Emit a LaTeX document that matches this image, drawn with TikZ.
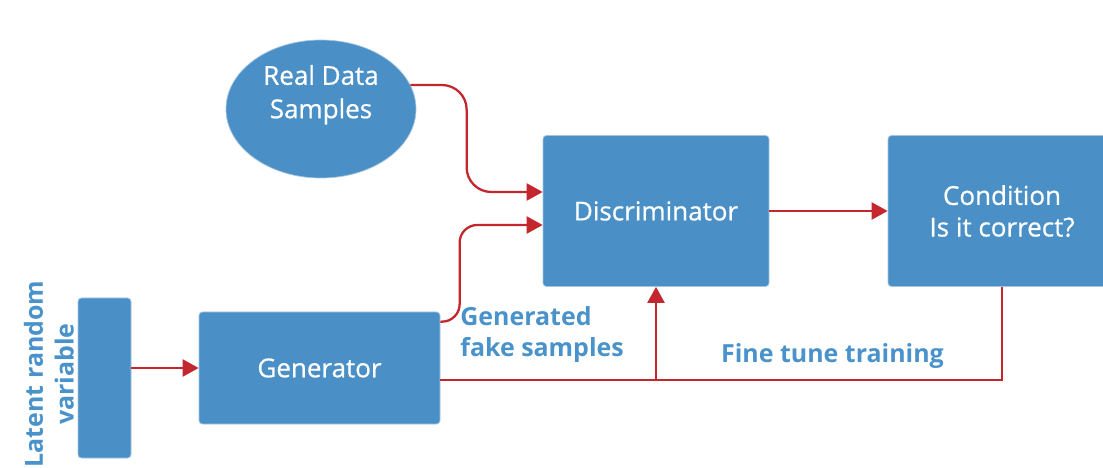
\documentclass[tikz,border=0pt]{standalone}
\usepackage{fontspec}
\setmainfont{Open Sans}
\newfontfamily\boxfont[FakeBold=0.6]{Open Sans}
\usetikzlibrary{shapes.geometric,arrows.meta}
\definecolor{boxblue}{HTML}{4A90C6}
\definecolor{edgeblue}{HTML}{A3C5E2}
\definecolor{linered}{HTML}{C4262E}
\definecolor{textblue}{HTML}{4A92CA}

\begin{document}
\begin{tikzpicture}
\tikzstyle{block} = [draw=edgeblue, thin, fill=boxblue, rounded corners=2pt, text=white, font=\boxfont\fontsize{14.8}{18}\selectfont, align=center, inner sep=0pt]
\tikzstyle{flow} = [draw=linered, line width=1.3pt, -{Triangle[length=3.2mm,width=3.4mm]}]
\tikzstyle{note} = [text=textblue, font=\bfseries\fontsize{14.2}{17.5}\selectfont, inner sep=0pt]
\clip (0,0) rectangle (22.06,-9.36);
\node[block, ellipse, minimum width=3.8cm, minimum height=2.76cm] (real) at (6.42,-2.18)
  {\raisebox{0.15cm}[0pt][0pt]{\begin{tabular}{@{}c@{}}Real Data\\[1pt]Samples\end{tabular}}};
\node[block, minimum width=4.52cm, minimum height=3.02cm] (disc) at (13.12,-4.22) {Discriminator};
\node[block, minimum width=4.56cm, minimum height=3.02cm] (cond) at (20.04,-4.22) {Condition\\Is it correct?};
\node[block, minimum width=4.82cm, minimum height=2.24cm] (gen) at (6.39,-7.36) {Generator};
\node[block, minimum width=1.06cm, minimum height=3.2cm] (latent) at (2.09,-7.56) {};
\node[note, rotate=90, align=center] (latentlabel) at (0.98,-7.48) {Latent random\\variable};
\node[note, anchor=north west, align=left] (fakelabel) at (9.2,-6.12) {Generated\\fake samples};
\node[note] (finelabel) at (16.65,-7.12) {Fine tune training};
% inputs of the discriminator
\draw[flow, rounded corners=14pt] (real.15) -| ([xshift=-1.52cm, yshift=3.8mm]disc.west) -- ([yshift=3.8mm]disc.west);
\draw[flow, rounded corners=10pt] ([yshift=-2mm]gen.north east) -| ([xshift=-1.66cm, yshift=-2.8mm]disc.west) -- ([yshift=-2.8mm]disc.west);
\draw[flow] (latent.east |- gen.west) -- (gen.west);
\draw[flow] (disc.east) -- (cond.west);
% feedback loop
\coordinate (tap) at ([yshift=-2.4mm]disc.south |- gen.east);
\draw[draw=linered, line width=1.3pt] (cond.south) |- ([yshift=-2.4mm]gen.east);
\draw[flow] (tap) -- (disc.south);
\end{tikzpicture}
\end{document}
